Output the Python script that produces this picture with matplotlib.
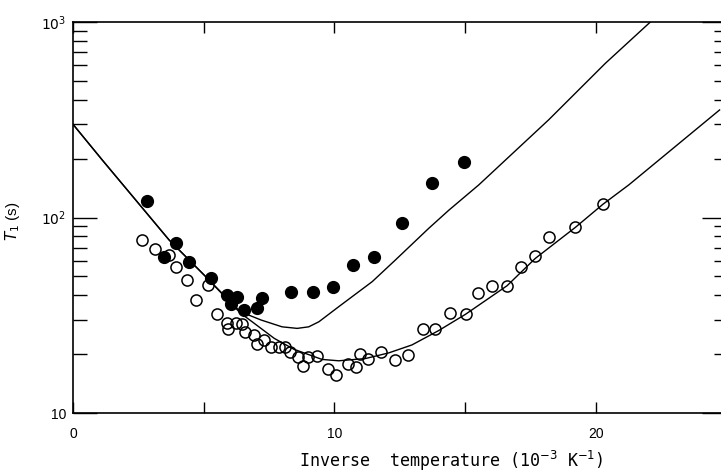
"""T1 against inverse temperature, filled and open series with model curves"""
import numpy as np
from matplotlib import pyplot as plt

# filled circles
filled_x = [2.82, 3.48, 3.93, 4.44, 5.27, 5.90, 6.03, 6.28, 6.54, 7.05, 7.24,
            8.33, 9.18, 9.95, 10.71, 11.52, 12.59, 13.72, 14.95]
filled_t = [122, 63, 74, 59, 49, 40, 36, 39, 33.6, 34.4, 38.9,
            41.7, 41.7, 44, 57, 63, 94, 150, 193]

# open circles
open_x = [2.65, 3.14, 3.67, 3.93, 4.35, 4.72, 5.17, 5.50, 5.90, 5.94, 6.22,
          6.45, 6.60, 6.92, 7.05, 7.30, 7.56, 7.90, 8.13, 8.29, 8.62, 8.81,
          8.99, 9.34, 9.77, 10.07, 10.53, 10.84, 11.00, 11.29, 11.77, 12.31,
          12.81, 13.38, 13.84, 14.41, 15.02, 15.50, 16.03, 16.61, 17.16,
          17.69, 18.20, 19.22, 20.28]
open_t = [77, 69, 64, 56, 48, 38, 45, 32, 29, 27, 29,
          28.5, 26, 25, 22.6, 23.6, 21.7, 21.8, 21.7, 20.4, 19.4, 17.5,
          19.4, 19.6, 16.7, 15.7, 17.9, 17.1, 20.0, 18.9, 20.5, 18.7,
          19.8, 27.0, 26.8, 32.6, 32.0, 40.9, 44.8, 44.8, 55.6,
          63.8, 79.8, 89.1, 117]

# model curves
upper_x = [0, 1.12, 3.67, 5.07, 6.4, 7.2, 8.0, 8.58, 9.02, 9.41, 10.17,
           11.45, 12.34, 13.61, 14.38, 15.53, 18.2, 20.37, 22.09]
upper_t = [300, 197, 77, 50, 33, 29.9, 27.6, 27.1, 27.6, 29.3, 35,
           47, 60.7, 88, 109, 147, 316, 615, 1000]

lower_x = [0, 1.12, 3.67, 5.07, 6.4, 6.9, 7.7, 8.45, 9.53, 10.17, 11.19,
           12.08, 12.97, 13.99, 15.02, 16.61, 17.69, 19.22, 20.28, 21.27, 24.74]
lower_t = [300, 197, 77, 50, 32.5, 29, 24.1, 21.2, 18.8, 18.5, 19.0,
           20.3, 22.3, 26.4, 32, 44.8, 61.8, 89, 117, 147, 355]

x_ticks = [0, 5, 10, 15, 20]
x_ticklabels = ["0", "", "10", "", "20"]
y_ticks = [10, 100, 1000]
y_ticklabels = ["10", "$10^2$", "$10^3$"]

if __name__ == "__main__":
    plt.rcParams["font.family"] = ["Liberation Sans", "DejaVu Sans"]

    fig = plt.figure(figsize=(7.21, 4.73), dpi=100)
    ax = fig.add_axes([0.1012, 0.1268, 0.899, 0.8266])

    ax.plot(upper_x, upper_t, color="black", linewidth=1.0)
    ax.plot(lower_x, lower_t, color="black", linewidth=1.0)
    ax.plot(open_x, open_t, "o", mfc="none", mec="black", ms=8, mew=1.1)
    ax.plot(filled_x, filled_t, "o", color="black", ms=8.5, zorder=3)

    ax.set_yscale("log")
    ax.set_xlim(0, 24.8)
    ax.set_ylim(10, 1000)

    ax.set_xticks(x_ticks)
    ax.set_xticklabels(x_ticklabels)
    ax.set_yticks(y_ticks)
    ax.set_yticklabels(y_ticklabels)

    ax.tick_params(axis="x", direction="in", length=8, width=1,
                   top=True, bottom=True, labelsize=10, pad=10)
    ax.tick_params(axis="y", which="major", direction="in", length=17,
                   width=1, labelsize=10, pad=5)
    ax.tick_params(axis="y", which="minor", direction="in", length=10,
                   width=1)
    ax.spines["right"].set_visible(False)
    for s in ["left", "bottom", "top"]:
        ax.spines[s].set_linewidth(1.2)

    # short ticks on the right side
    ax2 = ax.twinx()
    ax2.set_yscale("log")
    ax2.set_ylim(10, 1000)
    ax2.tick_params(which="major", direction="in", length=13.5, width=1,
                    labelright=False)
    ax2.tick_params(which="minor", direction="in", length=5, width=1)
    for s in ax2.spines.values():
        s.set_visible(False)

    ax.set_xlabel("Inverse  temperature (10$^{-3}$ K$^{-1}$)",
                  family="DejaVu Sans Mono", fontsize=12)
    ax.xaxis.set_label_coords(0.583, -0.092)
    ax.set_ylabel("$T_1$ (s)", fontsize=11)
    ax.yaxis.set_label_coords(-0.079, 0.49)

    fig.savefig("out.png", dpi=100)
